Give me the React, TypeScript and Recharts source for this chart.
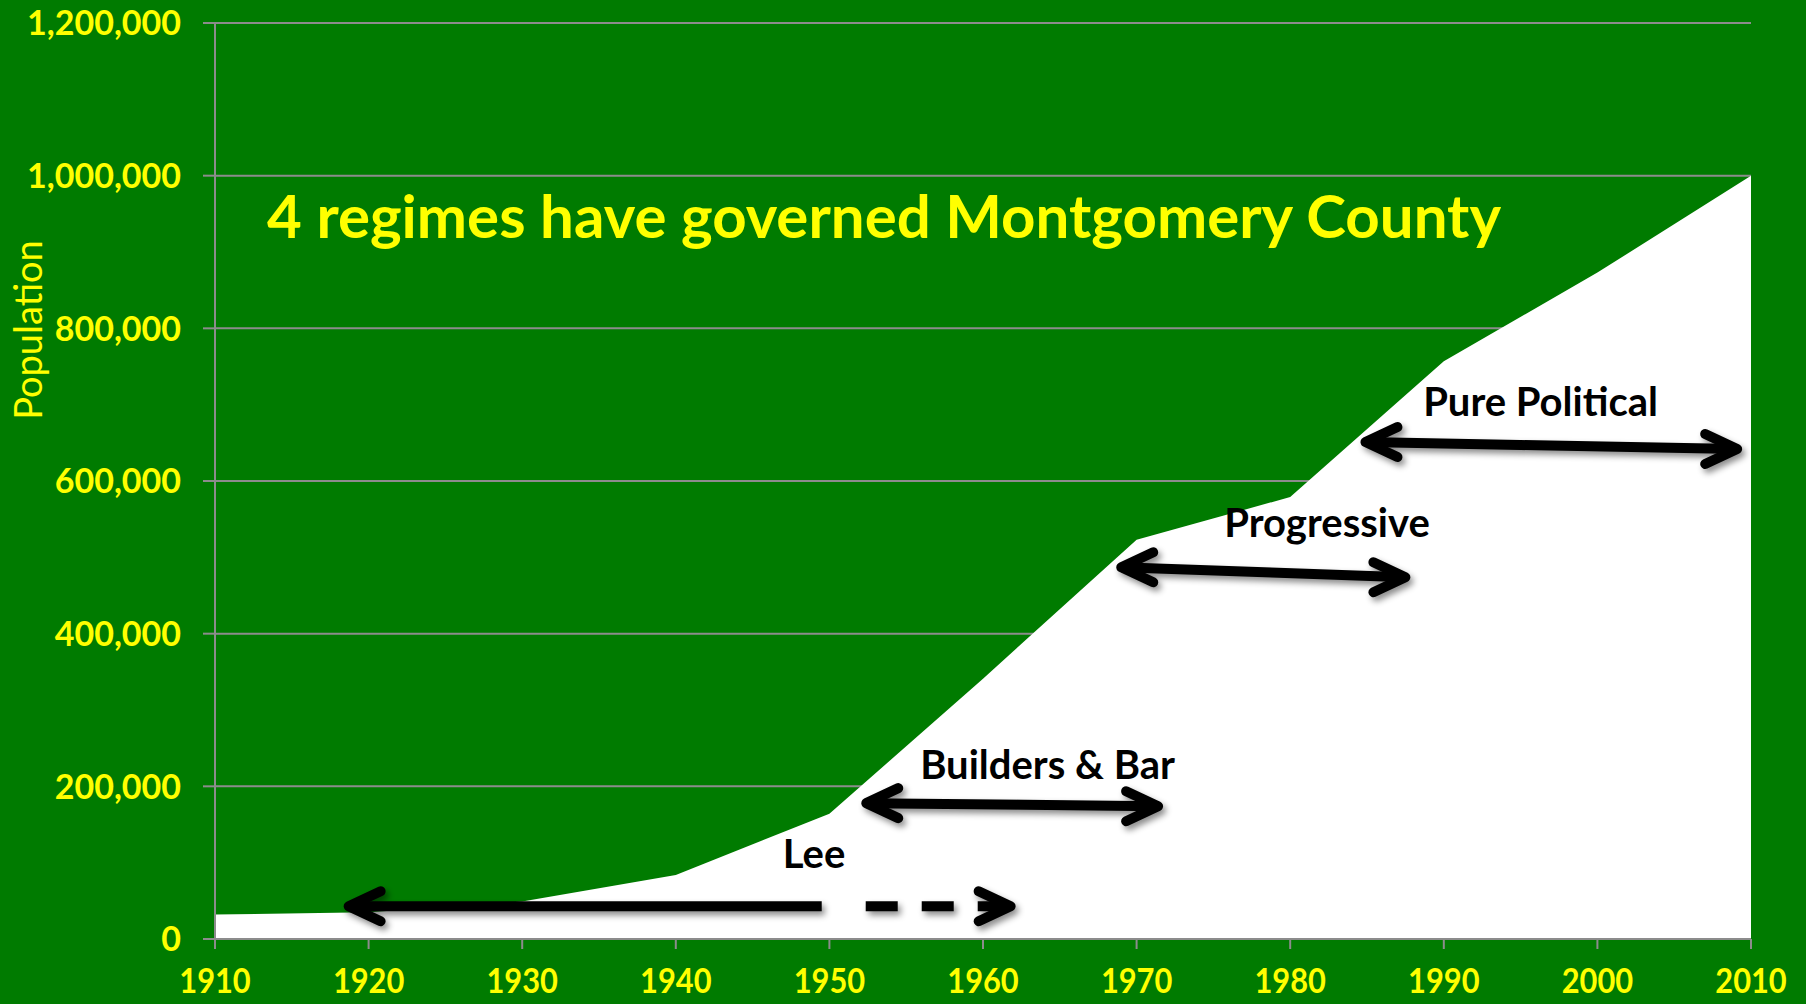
import React from 'react';
import { AreaChart, Area, XAxis, YAxis, CartesianGrid, ReferenceLine, ReferenceDot } from 'recharts';

// Montgomery County population by census year
const YEARS = [1910, 1920, 1930, 1940, 1950, 1960, 1970, 1980, 1990, 2000, 2010];
const POPULATION = [32000, 35000, 49000, 84000, 164000, 341000, 523000, 579000, 757000, 873000, 1000000];
const Y_TICKS = [0, 200000, 400000, 600000, 800000, 1000000, 1200000];

// regimes: arrow span (year, population) and label anchor
const REGIMES = [
  { name: 'Lee', from: [1918.7, 43000], to: [1961.8, 43000], solidTo: 1949.5, label: [1949.0, 112000] },
  { name: 'Builders & Bar', from: [1952.4, 178000], to: [1971.4, 174000], label: [1964.2, 229000] },
  { name: 'Progressive', from: [1969.0, 487000], to: [1987.5, 474000], label: [1982.4, 546000] },
  { name: 'Pure Political', from: [1984.9, 651000], to: [2009.1, 642000], label: [1996.3, 704000] },
];

const data = YEARS.map((year, i) => ({ year, pop: POPULATION[i] }));

const BG = '#007B00';
const YELLOW = '#FFFF00';
const GRID = '#8C8C8C';
const FONT = 'Lato, "Open Sans", sans-serif';

const fmt = (v: number) => v.toLocaleString('en-US');

function YTick({ x, y, payload }: any) {
  return (
    <text x={x} y={y} dy="0.36em" textAnchor="end" fill={YELLOW} fontFamily={FONT} fontWeight={700} fontSize={34}>
      {fmt(payload.value)}
    </text>
  );
}

function XTick({ x, y, payload }: any) {
  return (
    <text transform={`translate(${x},${y + 44}) scale(0.88,1)`} textAnchor="middle" fill={YELLOW} fontFamily={FONT} fontWeight={700} fontSize={35}>
      {payload.value}
    </text>
  );
}

function chevron(tx: number, ty: number, dir: number) {
  return `M ${tx - dir * 32} ${ty - 15} L ${tx} ${ty} L ${tx - dir * 32} ${ty + 15}`;
}

function makeArrow(from: number[], to: number[], solidTo?: number) {
  return (props: any) => {
    const { x1, y1, x2, y2 } = props;
    const common = { stroke: '#000', strokeWidth: 10, fill: 'none', strokeLinecap: 'round' as const, strokeLinejoin: 'round' as const };
    let body;
    if (solidTo != null) {
      // split point along the segment, in pixels
      const t = (solidTo - from[0]) / (to[0] - from[0]);
      const sx = x1 + t * (x2 - x1);
      const sy = y1 + t * (y2 - y1);
      body = (
        <>
          <line x1={x1} y1={y1} x2={sx} y2={sy} stroke="#000" strokeWidth={10} />
          <line x1={sx + 44} y1={sy} x2={x2} y2={y2} stroke="#000" strokeWidth={10} strokeDasharray="32 24" />
        </>
      );
    } else {
      body = <line x1={x1} y1={y1} x2={x2} y2={y2} stroke="#000" strokeWidth={10} />;
    }
    return (
      <g filter="url(#arrowShadow)">
        {body}
        <path d={chevron(x1, y1, -1)} {...common} />
        <path d={chevron(x2, y2, 1)} {...common} />
      </g>
    );
  };
}

function makeLabel(text: string) {
  return (props: any) => (
    <text x={props.cx} y={props.cy} dy="0.36em" textAnchor="middle" fill="#000" fontFamily={FONT} fontWeight={700} fontSize={40}>
      {text}
    </text>
  );
}

export default function App() {
  return (
    <div style={{ position: 'absolute', left: 0, top: 0, width: 1806, height: 1004, background: BG, overflow: 'hidden' }}>
      <svg width={0} height={0} style={{ position: 'absolute' }}>
        <defs>
          <filter id="arrowShadow" x="-10%" y="-100%" width="120%" height="300%">
            <feDropShadow dx={3} dy={4} stdDeviation={3} floodColor="#000" floodOpacity={0.45} />
          </filter>
        </defs>
      </svg>
      <AreaChart width={1806} height={1004} data={data} margin={{ top: 23, right: 55, bottom: 0, left: 0 }}>
        <CartesianGrid vertical={false} stroke={GRID} strokeWidth={2} />
        <XAxis
          dataKey="year"
          type="number"
          domain={[1910, 2010]}
          ticks={YEARS}
          interval={0}
          height={65}
          tickSize={10}
          tickMargin={0}
          stroke={GRID}
          strokeWidth={2}
          tick={<XTick />}
        />
        <YAxis
          domain={[0, 1200000]}
          ticks={Y_TICKS}
          interval={0}
          width={215}
          tickSize={12}
          tickMargin={22}
          stroke={GRID}
          strokeWidth={2}
          tick={<YTick />}
        />
        <Area type="linear" dataKey="pop" stroke="none" fill="#FFFFFF" fillOpacity={1} isAnimationActive={false} />
        {REGIMES.map((r) => (
          <ReferenceLine
            key={r.name}
            segment={[{ x: r.from[0], y: r.from[1] }, { x: r.to[0], y: r.to[1] }]}
            shape={makeArrow(r.from, r.to, r.solidTo)}
          />
        ))}
        {REGIMES.map((r) => (
          <ReferenceDot key={r.name + '-label'} x={r.label[0]} y={r.label[1]} r={0} shape={makeLabel(r.name)} />
        ))}
      </AreaChart>
      <svg width={1806} height={1004} style={{ position: 'absolute', left: 0, top: 0, pointerEvents: 'none' }}>
        <text x={267} y={238} fill={YELLOW} fontFamily={FONT} fontWeight={700} fontSize={60}>
          4 regimes have governed Montgomery County
        </text>
        <text transform="translate(42,330) rotate(-90)" textAnchor="middle" fill={YELLOW} fontFamily={FONT} fontSize={38}>
          Population
        </text>
      </svg>
    </div>
  );
}
